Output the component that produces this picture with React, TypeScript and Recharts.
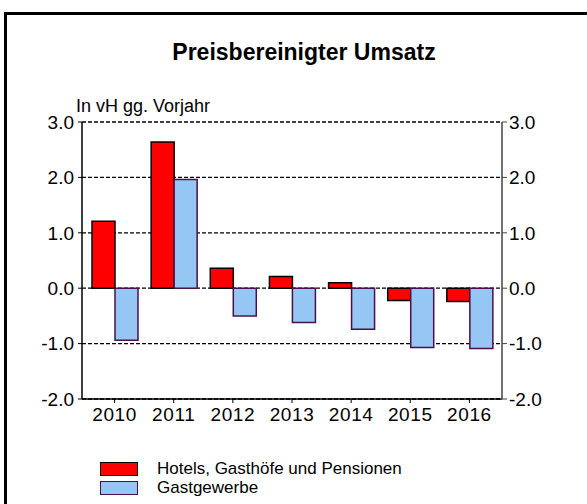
import React from 'react';
import { BarChart, Bar, XAxis, YAxis, CartesianGrid } from 'recharts';

const years = ['2010', '2011', '2012', '2013', '2014', '2015', '2016'];
const hotels = [1.21, 2.64, 0.36, 0.21, 0.10, -0.22, -0.24];
const gastgewerbe = [-0.94, 1.96, -0.50, -0.62, -0.74, -1.07, -1.09];
const yTicks = [-2, -1, 0, 1, 2, 3];
const seriesNames = ['Hotels, Gasthöfe und Pensionen', 'Gastgewerbe'];
const seriesFill = ['#FF0000', '#96C6F4'];
const seriesStroke = ['#000000', '#4A104A'];
const title = 'Preisbereinigter Umsatz';
const subtitle = 'In vH gg. Vorjahr';

const data = years.map((y, i) => ({ year: y, hotels: hotels[i], gast: gastgewerbe[i] }));

const FONT = '"Liberation Sans", Arial, sans-serif';
const TICK_FONT = 19;

export default function App() {
  return (
    <div style={{ position: 'absolute', left: 0, top: 0, width: 587, height: 504, overflow: 'hidden', background: '#fff', fontFamily: FONT }}>
      <div style={{ position: 'absolute', left: 4, top: 12, width: 700, height: 700, borderLeft: '3px solid #000', borderTop: '3px solid #000' }} />
      <div style={{ position: 'absolute', left: 0, width: 608, top: 40, textAlign: 'center', fontWeight: 'bold', fontSize: 23, lineHeight: '24px', color: '#000' }}>{title}</div>
      <div style={{ position: 'absolute', left: 76, top: 96, fontSize: 18, lineHeight: '20px', color: '#000' }}>{subtitle}</div>
      <BarChart
        width={587}
        height={504}
        data={data}
        margin={{ top: 122, right: 0, left: 0, bottom: 75 }}
        barGap={0}
        barSize={23}
        style={{ position: 'absolute', left: 0, top: 0 }}
      >
        <CartesianGrid yAxisId="left" horizontal vertical={false} stroke="#000" strokeDasharray="4 2" strokeWidth={1.3} />
        <XAxis
          dataKey="year"
          height={30}
          padding={{ left: 3, right: 3 }}
          axisLine={{ stroke: '#000', strokeWidth: 1.5 }}
          tickLine={{ stroke: '#000' }}
          tickSize={4}
          tickMargin={5}
          tick={{ fill: '#000', fontSize: TICK_FONT, fontFamily: FONT, letterSpacing: 0.6 }}
          interval={0}
        />
        <YAxis
          yAxisId="left"
          orientation="left"
          width={82}
          type="number"
          domain={[-2, 3]}
          ticks={yTicks}
          tickFormatter={(v: number) => v.toFixed(1)}
          axisLine={{ stroke: '#000', strokeWidth: 1.5 }}
          tickLine={{ stroke: '#000' }}
          tickSize={4}
          tickMargin={4}
          tick={{ fill: '#000', fontSize: TICK_FONT, fontFamily: FONT }}
          interval={0}
        />
        <YAxis
          yAxisId="right"
          orientation="right"
          width={85}
          type="number"
          domain={[-2, 3]}
          ticks={yTicks}
          tickFormatter={(v: number) => v.toFixed(1)}
          axisLine={{ stroke: '#444', strokeWidth: 1.5 }}
          tickLine={{ stroke: '#444' }}
          tickSize={5}
          tickMargin={2}
          tick={{ fill: '#000', fontSize: TICK_FONT, fontFamily: FONT }}
          interval={0}
        />
        <Bar yAxisId="left" dataKey="hotels" name={seriesNames[0]} fill={seriesFill[0]} stroke={seriesStroke[0]} strokeWidth={1.5} isAnimationActive={false} />
        <Bar yAxisId="right" dataKey="gast" name={seriesNames[1]} fill={seriesFill[1]} stroke={seriesStroke[1]} strokeWidth={1.5} isAnimationActive={false} />
      </BarChart>
      <div style={{ position: 'absolute', left: 100, top: 459, fontSize: 17, color: '#000', whiteSpace: 'nowrap' }}>
        {seriesNames.map((n, i) => (
          <div key={i} style={{ display: 'flex', alignItems: 'center', height: 19 }}>
            <div
              style={{
                width: 36,
                height: 12,
                background: seriesFill[i],
                border: `1.5px solid ${seriesStroke[i]}`,
                marginRight: 19,
                flexShrink: 0,
              }}
            />
            <span style={{ lineHeight: '17px' }}>{n}</span>
          </div>
        ))}
      </div>
    </div>
  );
}
